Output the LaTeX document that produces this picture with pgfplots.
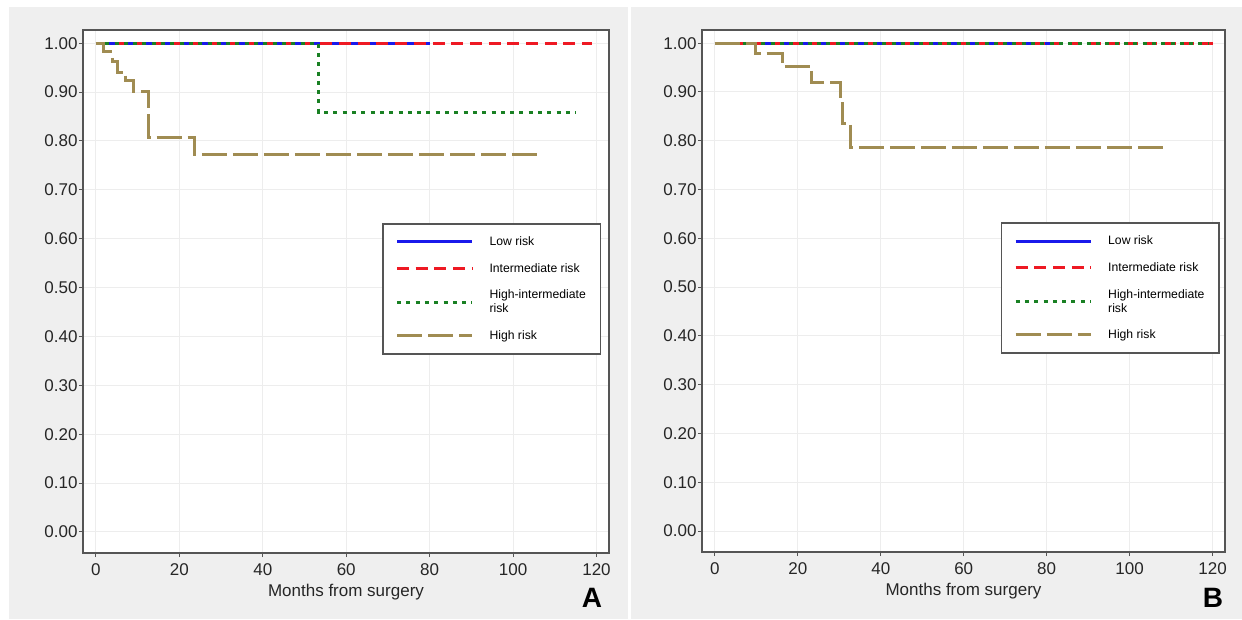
\documentclass[border=0pt]{standalone}
\usepackage{fontspec}
\setmainfont{Liberation Sans}
\usepackage{pgfplots}
\pgfplotsset{compat=1.18}

\definecolor{bgray}{RGB}{239,239,239}
\definecolor{kmblue}{RGB}{25,25,235}
\definecolor{kmred}{RGB}{238,25,35}
\definecolor{kmgreen}{RGB}{25,128,35}
\definecolor{kmbrown}{RGB}{160,140,82}
\definecolor{axgray}{RGB}{85,85,85}

\pgfplotsset{
 kmaxis/.style={
   scale only axis,
   xmin=-3.1, xmax=123, ymin=-0.043, ymax=1.027,
   xtick={0,20,40,60,80,100,120},
   ytick={0,0.1,0.2,0.3,0.4,0.5,0.6,0.7,0.8,0.9,1.0},
   tick pos=left, tick align=outside, major tick length=4pt,
   grid=major, major grid style={color=black!7, line width=1pt},
   axis line style={axgray, line width=1.6pt},
   every tick/.style={axgray, line width=1pt},
   axis background/.style={fill=white},
   ticklabel style={font=\fontsize{17}{20}\selectfont, text=black!85},
   xticklabel style={yshift=-3pt},
   yticklabel style={xshift=2pt, /pgf/number format/.cd, fixed, fixed zerofill, precision=2},
   /pgf/number format/assume math mode=true,
   xlabel={Months from surgery},
   xlabel style={font=\fontsize{17}{20}\selectfont, text=black!85, at={(axis description cs:0.5,-0.0745)}, anchor=center},
   legend cell align=left,
   legend style={font=\fontsize{12.2}{14}\selectfont, draw=axgray, line width=1.6pt, fill=white,
     inner xsep=12.5pt, inner ysep=11pt, row sep=12.3pt, cells={align=left},
     /tikz/every odd column/.append style={column sep=14pt}},
   legend image code/.code={\draw[#1] (0pt,0pt) -- (75pt,0pt);},
 },
 lowrisk/.style={kmblue, line width=3pt},
 intrisk/.style={kmred, line width=3pt, dash pattern=on 12pt off 6.7pt},
 hirisk/.style={kmgreen, line width=3pt, dash pattern=on 4pt off 5.3pt},
 highrisk/.style={kmbrown, line width=3pt, dash pattern=on 25pt off 6pt},
}

\begin{document}
\begin{tikzpicture}[x=1pt,y=1pt]
\useasboundingbox (0,0) rectangle (1242,619);
\fill[white] (0,0) rectangle (1242,619);
\fill[bgray] (9,0) rectangle (628,612);
\fill[bgray] (631,0) rectangle (1242,612);

\begin{axis}[kmaxis, at={(83pt,66pt)}, anchor=south west, width=526pt, height=523pt,
  legend style={at={(axis description cs:0.985,0.631)}, anchor=north east}]
\addplot[lowrisk] coordinates {(0,1) (80,1)};
\addlegendentry{Low risk}
\addplot[intrisk] coordinates {(0,1) (119,1)};
\addlegendentry{Intermediate risk}
\addplot[hirisk] coordinates {(0,1) (53.4,1) (53.4,0.858) (115,0.858)};
\addlegendentry{High-intermediate\\risk}
\addplot[highrisk, const plot] coordinates {(0,1) (1.75,0.982) (3.9,0.962) (5.1,0.941) (7.1,0.923) (8.9,0.902) (12.7,0.807) (23.7,0.773) (106,0.773)};
\addlegendentry{High risk}
\end{axis}

\begin{axis}[kmaxis, at={(702pt,67pt)}, anchor=south west, width=523pt, height=522pt,
  legend style={at={(axis description cs:0.990,0.632)}, anchor=north east}]
\addplot[lowrisk] coordinates {(0,1) (83,1)};
\addlegendentry{Low risk}
\addplot[intrisk] coordinates {(0,1) (120,1)};
\addlegendentry{Intermediate risk}
\addplot[hirisk] coordinates {(0,1) (119,1)};
\addlegendentry{High-intermediate\\risk}
\addplot[highrisk, const plot] coordinates {(0,1) (9.7,0.979) (16.2,0.953) (23.2,0.919) (30.2,0.877) (30.8,0.836) (32.6,0.787) (108,0.787)};
\addlegendentry{High risk}
\end{axis}

\node[font=\fontsize{28}{30}\selectfont\bfseries] at (592,21) {A};
\node[font=\fontsize{28}{30}\selectfont\bfseries] at (1213,21) {B};
\end{tikzpicture}
\end{document}
